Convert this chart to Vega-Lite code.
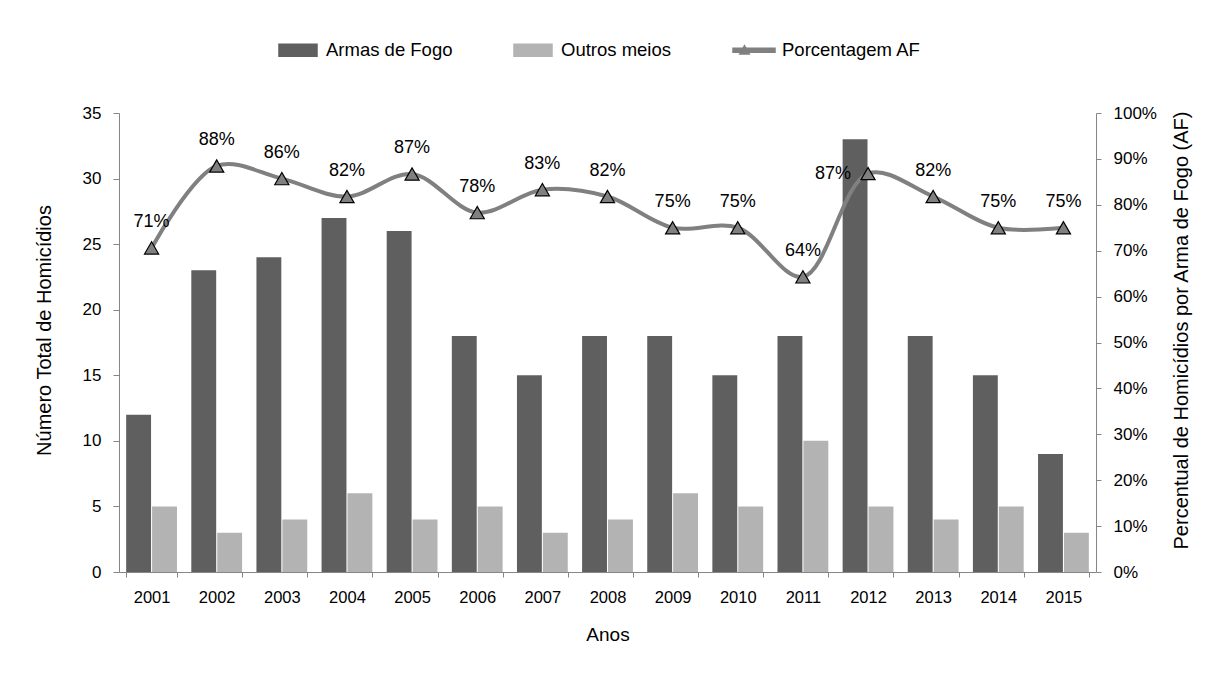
{
  "$schema": "https://vega.github.io/schema/vega-lite/v6.json",
  "width": 977,
  "height": 459,
  "autosize": "none",
  "padding": {"left": 119, "top": 113, "right": 120, "bottom": 101},
  "config": {
    "font": "Liberation Sans",
    "view": {"stroke": null},
    "axis": {"grid": false, "domainColor": "#868686", "tickColor": "#868686", "labelColor": "#000", "titleColor": "#000", "titleFontWeight": "normal"}
  },
  "datasets": {
    "barras": [
      {"ano": "2001", "serie": "Armas de Fogo", "valor": 12},
      {"ano": "2001", "serie": "Outros meios", "valor": 5},
      {"ano": "2002", "serie": "Armas de Fogo", "valor": 23},
      {"ano": "2002", "serie": "Outros meios", "valor": 3},
      {"ano": "2003", "serie": "Armas de Fogo", "valor": 24},
      {"ano": "2003", "serie": "Outros meios", "valor": 4},
      {"ano": "2004", "serie": "Armas de Fogo", "valor": 27},
      {"ano": "2004", "serie": "Outros meios", "valor": 6},
      {"ano": "2005", "serie": "Armas de Fogo", "valor": 26},
      {"ano": "2005", "serie": "Outros meios", "valor": 4},
      {"ano": "2006", "serie": "Armas de Fogo", "valor": 18},
      {"ano": "2006", "serie": "Outros meios", "valor": 5},
      {"ano": "2007", "serie": "Armas de Fogo", "valor": 15},
      {"ano": "2007", "serie": "Outros meios", "valor": 3},
      {"ano": "2008", "serie": "Armas de Fogo", "valor": 18},
      {"ano": "2008", "serie": "Outros meios", "valor": 4},
      {"ano": "2009", "serie": "Armas de Fogo", "valor": 18},
      {"ano": "2009", "serie": "Outros meios", "valor": 6},
      {"ano": "2010", "serie": "Armas de Fogo", "valor": 15},
      {"ano": "2010", "serie": "Outros meios", "valor": 5},
      {"ano": "2011", "serie": "Armas de Fogo", "valor": 18},
      {"ano": "2011", "serie": "Outros meios", "valor": 10},
      {"ano": "2012", "serie": "Armas de Fogo", "valor": 33},
      {"ano": "2012", "serie": "Outros meios", "valor": 5},
      {"ano": "2013", "serie": "Armas de Fogo", "valor": 18},
      {"ano": "2013", "serie": "Outros meios", "valor": 4},
      {"ano": "2014", "serie": "Armas de Fogo", "valor": 15},
      {"ano": "2014", "serie": "Outros meios", "valor": 5},
      {"ano": "2015", "serie": "Armas de Fogo", "valor": 9},
      {"ano": "2015", "serie": "Outros meios", "valor": 3}
    ],
    "pct": [
      {"ano": "2001", "pct": 0.706},
      {"ano": "2002", "pct": 0.8846},
      {"ano": "2003", "pct": 0.857},
      {"ano": "2004", "pct": 0.818},
      {"ano": "2005", "pct": 0.867},
      {"ano": "2006", "pct": 0.783},
      {"ano": "2007", "pct": 0.833},
      {"ano": "2008", "pct": 0.818},
      {"ano": "2009", "pct": 0.75},
      {"ano": "2010", "pct": 0.75},
      {"ano": "2011", "pct": 0.643},
      {"ano": "2012", "pct": 0.868},
      {"ano": "2013", "pct": 0.818},
      {"ano": "2014", "pct": 0.75},
      {"ano": "2015", "pct": 0.75}
    ]
  },
  "layer": [
    {
      "data": {"name": "barras"},
      "mark": {"type": "bar"},
      "encoding": {
        "x": {
          "field": "ano", "type": "nominal",
          "scale": {"paddingInner": 0.22, "paddingOuter": 0.11},
          "axis": {
            "title": "Anos", "labelAngle": 0,
            "labelFontSize": 16.5, "labelPadding": 12,
            "tickSize": 5, "tickBand": "extent",
            "titleFontSize": 19, "titlePadding": 20
          }
        },
        "xOffset": {"field": "serie", "type": "nominal", "scale": {"domain": ["Armas de Fogo", "Outros meios"], "paddingInner": 0.04}},
        "y": {
          "field": "valor", "type": "quantitative",
          "scale": {"domain": [0, 35], "nice": false},
          "axis": {
            "title": "Número Total de Homicídios",
            "values": [0, 5, 10, 15, 20, 25, 30, 35],
            "labelFontSize": 17, "labelPadding": 12, "tickSize": 6,
            "titleFontSize": 20, "titleAngle": -90, "titleX": -75, "titleY": 217,
            "titleBaseline": "middle", "titleAlign": "center"
          }
        },
        "color": {
          "field": "serie", "type": "nominal",
          "scale": {"domain": ["Armas de Fogo", "Outros meios", "Porcentagem AF"], "range": ["#5f5f5f", "#b3b3b3", "#808080"]},
          "legend": {
            "orient": "none", "legendX": 158, "legendY": -84, "direction": "horizontal",
            "title": null, "labelFont": "Liberation Sans", "labelFontSize": 18.5, "labelColor": "#000",
            "symbolSize": 1600, "labelOffset": 7, "columnPadding": 58, "padding": 0,
            "encode": {
              "symbols": {
                "update": {
                  "shape": {"signal": "datum.value === 'Porcentagem AF' ? 'M-1.05,-0.1H1.05V0.1H-1.05Z' : 'M-0.95,-0.3H0.95V0.3H-0.95Z'"},
                  "fill": {"scale": "color", "field": "value"},
                  "stroke": {"value": "transparent"},
                  "opacity": {"value": 1}
                }
              }
            }
          }
        }
      }
    },
    {
      "data": {"name": "pct"},
      "encoding": {
        "x": {"field": "ano", "type": "nominal"},
        "y": {
          "field": "pct", "type": "quantitative",
          "scale": {"domain": [0, 1], "nice": false},
          "axis": {
            "orient": "right",
            "title": "Percentual de Homicídios por Arma de Fogo (AF)",
            "format": ".0%",
            "values": [0, 0.1, 0.2, 0.3, 0.4, 0.5, 0.6, 0.7, 0.8, 0.9, 1],
            "labelFontSize": 17, "labelPadding": 12, "tickSize": 5,
            "titleFontSize": 20, "titleAngle": -90, "titleX": 85, "titleY": 217,
            "titleBaseline": "middle", "titleAlign": "center"
          }
        }
      },
      "layer": [
        {
          "mark": {"type": "line", "interpolate": "catmull-rom", "strokeWidth": 4},
          "encoding": {"color": {"datum": "Porcentagem AF"}}
        },
        {
          "mark": {"type": "point", "filled": true, "fill": "#808080", "stroke": "#000", "strokeWidth": 1.2, "size": 200, "opacity": 1},
          "encoding": {
            "shape": {
              "datum": "Porcentagem AF",
              "scale": {"range": ["triangle-up"]},
              "legend": {
                "orient": "none", "legendX": 619, "legendY": -70, "title": null,
                "labelExpr": "''", "symbolSize": 144, "symbolFillColor": "#808080",
                "symbolStrokeColor": "#000", "symbolStrokeWidth": 1, "padding": 0, "labelOffset": 0
              }
            }
          }
        },
        {
          "transform": [{"filter": "datum.ano != '2012'"}],
          "mark": {"type": "text", "fontSize": 18, "dy": -26, "baseline": "middle", "color": "#000"},
          "encoding": {"text": {"field": "pct", "type": "quantitative", "format": ".0%"}}
        },
        {
          "transform": [{"filter": "datum.ano == '2012'"}],
          "mark": {"type": "text", "fontSize": 18, "dx": -17, "align": "right", "baseline": "middle", "color": "#000"},
          "encoding": {"text": {"field": "pct", "type": "quantitative", "format": ".0%"}}
        }
      ]
    }
  ],
  "resolve": {"scale": {"y": "independent"}}
}
